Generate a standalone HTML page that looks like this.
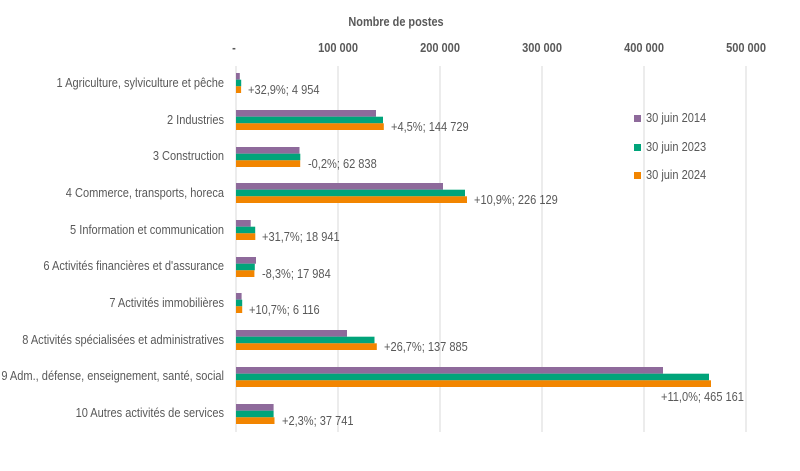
<!DOCTYPE html><html><head><meta charset="utf-8"><style>body{margin:0;background:#fff}svg{display:block}text{font-family:"Liberation Sans Narrow","Liberation Sans",sans-serif;fill:#595959;font-size:13px}</style></head><body>
<svg width="800" height="471" viewBox="0 0 800 471">
<text transform="translate(396,26) scale(0.84,1)" text-anchor="middle" font-weight="bold">Nombre de postes</text>
<g stroke="#d9d9d9" stroke-width="1">
<line x1="236" y1="66" x2="236" y2="432"/><line x1="338" y1="66" x2="338" y2="432"/><line x1="440" y1="66" x2="440" y2="432"/><line x1="542" y1="66" x2="542" y2="432"/><line x1="644" y1="66" x2="644" y2="432"/><line x1="746" y1="66" x2="746" y2="432"/>
</g>
<g text-anchor="middle" font-weight="bold">
<text transform="translate(234,52) scale(0.85,1)">-</text>
<text transform="translate(338,52) scale(0.85,1)">100 000</text>
<text transform="translate(440,52) scale(0.85,1)">200 000</text>
<text transform="translate(542,52) scale(0.85,1)">300 000</text>
<text transform="translate(644,52) scale(0.85,1)">400 000</text>
<text transform="translate(746,52) scale(0.85,1)">500 000</text></g>
<g text-anchor="end">
<text transform="translate(224,87) scale(0.85,1)">1 Agriculture, sylviculture et pêche</text>
<text transform="translate(224,124) scale(0.85,1)">2 Industries</text>
<text transform="translate(224,160) scale(0.85,1)">3 Construction</text>
<text transform="translate(224,197) scale(0.85,1)">4 Commerce, transports, horeca</text>
<text transform="translate(224,234) scale(0.85,1)">5 Information et communication</text>
<text transform="translate(224,270) scale(0.85,1)">6 Activités financières et d'assurance</text>
<text transform="translate(224,307) scale(0.85,1)">7 Activités immobilières</text>
<text transform="translate(224,344) scale(0.85,1)">8 Activités spécialisées et administratives</text>
<text transform="translate(224,380) scale(0.85,1)">9 Adm., défense, enseignement, santé, social</text>
<text transform="translate(224,417) scale(0.85,1)">10 Autres activités de services</text>
</g>
<g>
<rect x="236" y="73" width="3.8" height="6.7" fill="#8e6a9b"/><rect x="236" y="79.7" width="5.2" height="6.6" fill="#00a47a"/><rect x="236" y="86.3" width="5.1" height="6.7" fill="#f28500"/>
<rect x="236" y="110" width="140" height="6.7" fill="#8e6a9b"/><rect x="236" y="116.7" width="147" height="6.6" fill="#00a47a"/><rect x="236" y="123.3" width="147.8" height="6.7" fill="#f28500"/>
<rect x="236" y="147" width="63.5" height="6.7" fill="#8e6a9b"/><rect x="236" y="153.7" width="64.3" height="6.6" fill="#00a47a"/><rect x="236" y="160.3" width="64.2" height="6.7" fill="#f28500"/>
<rect x="236" y="183" width="207" height="6.7" fill="#8e6a9b"/><rect x="236" y="189.7" width="229" height="6.6" fill="#00a47a"/><rect x="236" y="196.3" width="231" height="6.7" fill="#f28500"/>
<rect x="236" y="220" width="14.7" height="6.7" fill="#8e6a9b"/><rect x="236" y="226.7" width="19.2" height="6.6" fill="#00a47a"/><rect x="236" y="233.3" width="19.3" height="6.7" fill="#f28500"/>
<rect x="236" y="257" width="20" height="6.7" fill="#8e6a9b"/><rect x="236" y="263.7" width="18.8" height="6.6" fill="#00a47a"/><rect x="236" y="270.3" width="18.4" height="6.7" fill="#f28500"/>
<rect x="236" y="293" width="5.6" height="6.7" fill="#8e6a9b"/><rect x="236" y="299.7" width="6.2" height="6.6" fill="#00a47a"/><rect x="236" y="306.3" width="6.2" height="6.7" fill="#f28500"/>
<rect x="236" y="330" width="111" height="6.7" fill="#8e6a9b"/><rect x="236" y="336.7" width="138.5" height="6.6" fill="#00a47a"/><rect x="236" y="343.3" width="140.8" height="6.7" fill="#f28500"/>
<rect x="236" y="367" width="427" height="6.7" fill="#8e6a9b"/><rect x="236" y="373.7" width="473" height="6.6" fill="#00a47a"/><rect x="236" y="380.3" width="475" height="6.7" fill="#f28500"/>
<rect x="236" y="404" width="37.6" height="6.7" fill="#8e6a9b"/><rect x="236" y="410.7" width="37.6" height="6.6" fill="#00a47a"/><rect x="236" y="417.3" width="38.5" height="6.7" fill="#f28500"/>
</g>
<g>
<text transform="translate(248,94) scale(0.85,1)">+32,9%; 4 954</text>
<text transform="translate(391,131) scale(0.85,1)">+4,5%; 144 729</text>
<text transform="translate(308,168) scale(0.85,1)">-0,2%; 62 838</text>
<text transform="translate(474,204) scale(0.85,1)">+10,9%; 226 129</text>
<text transform="translate(262,241) scale(0.85,1)">+31,7%; 18 941</text>
<text transform="translate(262,278) scale(0.85,1)">-8,3%; 17 984</text>
<text transform="translate(249,314) scale(0.85,1)">+10,7%; 6 116</text>
<text transform="translate(384,351) scale(0.85,1)">+26,7%; 137 885</text>
<text transform="translate(661,401) scale(0.85,1)">+11,0%; 465 161</text>
<text transform="translate(282,425) scale(0.85,1)">+2,3%; 37 741</text>
</g>
<rect x="634" y="115" width="7" height="7" fill="#8e6a9b"/><text transform="translate(646,122) scale(0.85,1)">30 juin 2014</text>
<rect x="634" y="144" width="7" height="7" fill="#00a47a"/><text transform="translate(646,151) scale(0.85,1)">30 juin 2023</text>
<rect x="634" y="172" width="7" height="7" fill="#f28500"/><text transform="translate(646,179) scale(0.85,1)">30 juin 2024</text>
</svg></body></html>
